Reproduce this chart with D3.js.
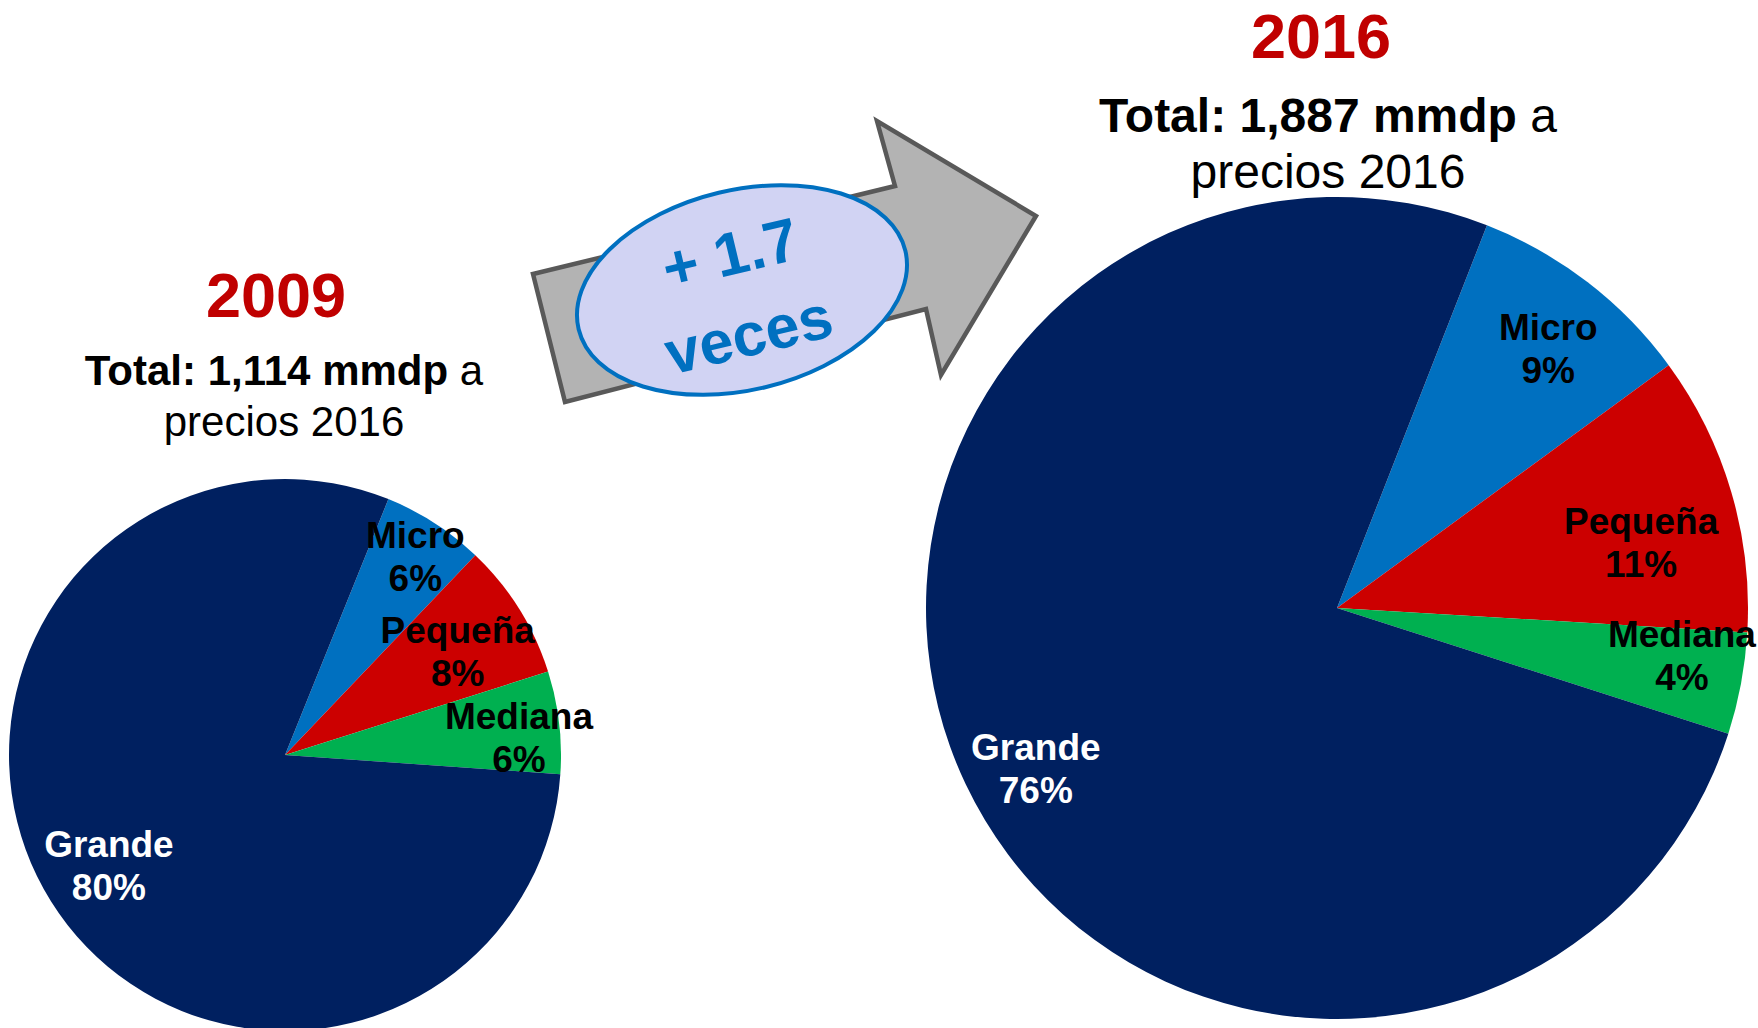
<!DOCTYPE html>
<html>
<head>
<meta charset="utf-8">
<script src="https://cdn.jsdelivr.net/npm/d3@7"></script>
<style>
  html, body { margin: 0; padding: 0; background: #fff; }
  svg { display: block; font-family: "Liberation Sans", Arial, sans-serif; }
</style>
</head>
<body>
<svg id="chart" width="1758" height="1028"></svg>
<script>
// ---- data ----
const categories = ["Micro", "Pequeña", "Mediana", "Grande"];
const shares2009 = [6, 8, 6, 80];
const shares2016 = [9, 11, 4, 76];
const years = ["2009", "2016"];
const totals = ["1,114", "1,887"];
const totalUnit = "mmdp";
const priceBase = "precios 2016";
const growthText = ["+ 1.7", "veces"];

// ---- style / layout ----
const colors = d3.scaleOrdinal()
  .domain(categories)
  .range(["#0070C0", "#CC0000", "#00B050", "#002060"]);
const labelColor = { "Micro": "#000", "Pequeña": "#000", "Mediana": "#000", "Grande": "#fff" };

const pies = [
  { values: shares2009, cx: 285, cy: 755, r: 276, start: 22,
    labelR: [0.86, 0.73, 0.85, 0.754], labelNudge: [0.5, 1, 2.5, -0.2],
    year: { x: 276, y: 317, size: 63 },
    total: { x: 284, y: 385, size: 42, lh: 51 } },
  { values: shares2016, cx: 1337, cy: 608, r: 411, start: 21.4,
    labelR: [0.815, 0.757, 0.847, 0.83], labelNudge: [1.5, 4.2, -2.8, -2.6],
    year: { x: 1321, y: 58, size: 63 },
    total: { x: 1328, y: 132, size: 48, lh: 56 } }
];

const svg = d3.select("#chart");
const rad = d => d * Math.PI / 180;

// ---- arrow with ellipse ----
const arrowPts = [[533, 274], [895, 186], [877, 121], [1036, 216], [941, 375], [926, 309], [565, 402]];
svg.append("path")
  .attr("d", d3.line()(arrowPts) + "Z")
  .attr("fill", "#B3B3B3")
  .attr("stroke", "#595959")
  .attr("stroke-width", 4.5)
  .attr("stroke-linejoin", "miter");

const eg = svg.append("g").attr("transform", "translate(742,290) rotate(-13.5)");
eg.append("ellipse")
  .attr("rx", 168).attr("ry", 100)
  .attr("fill", "#D1D3F3")
  .attr("stroke", "#0070C0")
  .attr("stroke-width", 4);
eg.selectAll("text.g")
  .data(growthText)
  .join("text")
  .attr("class", "g")
  .attr("x", (d, i) => i === 0 ? -3 : -4)
  .attr("y", (d, i) => i === 0 ? -17 : 66)
  .attr("text-anchor", "middle")
  .attr("font-weight", "bold")
  .attr("font-size", 61)
  .attr("fill", "#0070C0")
  .text(d => d);

// ---- pies ----
pies.forEach((p, pi) => {
  const g = svg.append("g").attr("transform", `translate(${p.cx},${p.cy})`);
  const pie = d3.pie().sort(null).value(d => d.v)
    .startAngle(rad(p.start)).endAngle(rad(p.start) + 2 * Math.PI);
  const arcs = pie(categories.map((c, i) => ({ c, v: p.values[i], i })));
  const arc = d3.arc().innerRadius(0).outerRadius(p.r);

  g.selectAll("path")
    .data(arcs)
    .join("path")
    .attr("d", arc)
    .attr("fill", d => colors(d.data.c));

  const lab = g.selectAll("text.lab")
    .data(arcs)
    .join("text")
    .attr("class", "lab")
    .attr("text-anchor", "middle")
    .attr("font-weight", "bold")
    .attr("font-size", 37)
    .attr("fill", d => labelColor[d.data.c])
    .attr("transform", d => {
      const a = (d.startAngle + d.endAngle) / 2 + rad(p.labelNudge[d.data.i]);
      const rr = p.r * p.labelR[d.data.i];
      return `translate(${rr * Math.sin(a)},${-rr * Math.cos(a)})`;
    });
  lab.append("tspan").attr("x", 0).attr("y", -8.5).text(d => d.data.c);
  lab.append("tspan").attr("x", 0).attr("y", 34.5).text(d => d.data.v + "%");

  // titles
  svg.append("text")
    .attr("x", p.year.x).attr("y", p.year.y)
    .attr("text-anchor", "middle")
    .attr("font-weight", "bold")
    .attr("font-size", p.year.size)
    .attr("fill", "#C00000")
    .text(years[pi]);

  const t = svg.append("text")
    .attr("x", p.total.x).attr("y", p.total.y)
    .attr("text-anchor", "middle")
    .attr("font-size", p.total.size)
    .attr("fill", "#000");
  t.append("tspan").attr("font-weight", "bold").text(`Total: ${totals[pi]} ${totalUnit}`);
  t.append("tspan").text(" a");

  svg.append("text")
    .attr("x", p.total.x).attr("y", p.total.y + p.total.lh)
    .attr("text-anchor", "middle")
    .attr("font-size", p.total.size)
    .attr("fill", "#000")
    .text(priceBase);
});
</script>
</body>
</html>
